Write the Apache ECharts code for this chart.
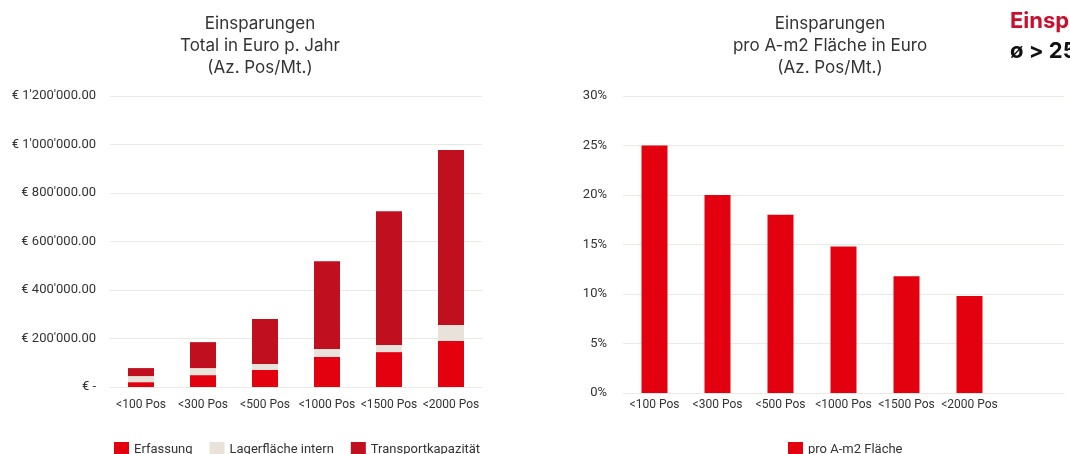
<!DOCTYPE html>
<html>
<head>
<meta charset="utf-8">
<script src="https://cdn.jsdelivr.net/npm/echarts@6/dist/echarts.min.js"></script>
<style>
html,body{margin:0;padding:0;background:#fff;}
#c{width:1070px;height:454px;}
</style>
</head>
<body>
<div id="c"></div>
<script>
const categories = ['<100 Pos', '<300 Pos', '<500 Pos', '<1000 Pos', '<1500 Pos', '<2000 Pos'];
const erfassung = [20000, 49000, 70000, 124000, 144000, 190000];
const lagerflaeche = [25000, 29000, 25000, 33000, 29000, 66000];
const transport = [33000, 107000, 185000, 362000, 552000, 721000];
const proM2 = [25, 20, 18, 14.8, 11.8, 9.8];
const rightCategories = categories.concat(['']);

const FONT = 'Roboto, "Noto Sans", sans-serif';
const TFONT = 'Inter, Roboto, sans-serif';
const TXT = '#333333';
const GRID = '#ece8e2';
const RED = '#e3000f';
const BEIGE = '#e8e2da';
const DARK = '#c01020';

function euro(v) {
  if (v === 0) return '€ -';
  const s = Math.round(v).toString().replace(/\B(?=(\d{3})+(?!\d))/g, "'");
  return '€ ' + s + '.00';
}

const chart = echarts.init(document.getElementById('c'), null, {renderer: 'canvas'});
chart.setOption({
  animation: false,
  textStyle: {fontFamily: FONT},
  title: [
    {text: 'Einsparungen\nTotal in Euro p. Jahr\n(Az. Pos/Mt.)', left: 255, top: 8, textAlign: 'center',
     textStyle: {fontFamily: TFONT, fontSize: 17, fontWeight: 'normal', color: TXT, lineHeight: 22}},
    {text: 'Einsparungen\npro A-m2 Fläche in Euro\n(Az. Pos/Mt.)', left: 825, top: 8, textAlign: 'center',
     textStyle: {fontFamily: TFONT, fontSize: 17, fontWeight: 'normal', color: TXT, lineHeight: 22}}
  ],
  graphic: [
    {type: 'text', left: 1010, top: 10, style: {text: 'Einsparungen', fill: '#c8102e', font: 'bold 22px ' + TFONT}},
    {type: 'text', left: 1010, top: 40, style: {text: 'ø > 25%', fill: '#111', font: 'bold 22px ' + TFONT}}
  ],
  legend: [
    {data: ['Erfassung', 'Lagerfläche intern', 'Transportkapazität'], left: 109, top: 437,
     icon: 'rect', itemWidth: 15, itemHeight: 15, itemGap: 17,
     textStyle: {fontFamily: FONT, fontSize: 13, color: TXT}},
    {data: ['pro A-m2 Fläche'], left: 783, top: 437,
     icon: 'rect', itemWidth: 15, itemHeight: 15,
     textStyle: {fontFamily: FONT, fontSize: 13, color: TXT}}
  ],
  grid: [
    {left: 110, top: 96, width: 372, height: 291, containLabel: false},
    {left: 623, top: 96, width: 441, height: 297, containLabel: false}
  ],
  xAxis: [
    {type: 'category', gridIndex: 0, data: categories,
     axisLine: {lineStyle: {color: GRID, width: 1}}, axisTick: {show: false},
     axisLabel: {color: TXT, fontSize: 12, margin: 12, fontFamily: FONT, interval: 0}},
    {type: 'category', gridIndex: 1, data: rightCategories,
     axisLine: {lineStyle: {color: GRID, width: 1}}, axisTick: {show: false},
     axisLabel: {color: TXT, fontSize: 12, margin: 6, fontFamily: FONT, interval: 0}}
  ],
  yAxis: [
    {type: 'value', gridIndex: 0, min: 0, max: 1200000, interval: 200000,
     axisLine: {show: false}, axisTick: {show: false},
     splitLine: {lineStyle: {color: GRID, width: 1}},
     axisLabel: {color: TXT, fontSize: 13, margin: 14, fontFamily: FONT, formatter: euro}},
    {type: 'value', gridIndex: 1, min: 0, max: 30, interval: 5,
     axisLine: {show: false}, axisTick: {show: false},
     splitLine: {lineStyle: {color: GRID, width: 1}},
     axisLabel: {color: TXT, fontSize: 13, margin: 16, fontFamily: FONT, formatter: '{value}%'}}
  ],
  series: [
    {name: 'Erfassung', type: 'bar', stack: 'a', xAxisIndex: 0, yAxisIndex: 0, data: erfassung,
     barWidth: 26, itemStyle: {color: RED}},
    {name: 'Lagerfläche intern', type: 'bar', stack: 'a', xAxisIndex: 0, yAxisIndex: 0, data: lagerflaeche,
     barWidth: 26, itemStyle: {color: BEIGE}},
    {name: 'Transportkapazität', type: 'bar', stack: 'a', xAxisIndex: 0, yAxisIndex: 0, data: transport,
     barWidth: 26, itemStyle: {color: DARK}},
    {name: 'pro A-m2 Fläche', type: 'bar', xAxisIndex: 1, yAxisIndex: 1, data: proM2,
     barWidth: 26, itemStyle: {color: RED}}
  ]
});
</script>
</body>
</html>
